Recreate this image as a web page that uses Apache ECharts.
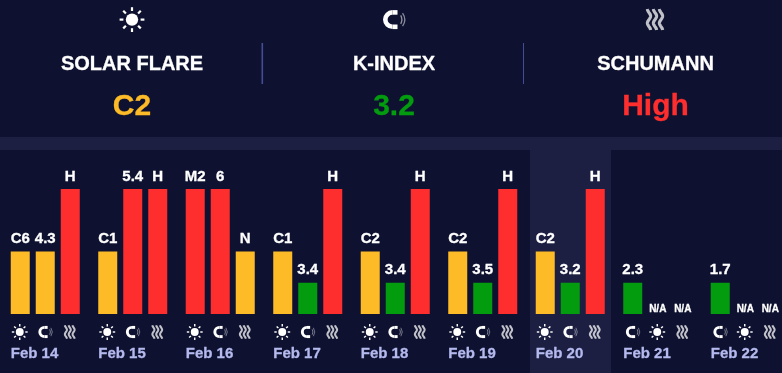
<!DOCTYPE html>
<html><head><meta charset="utf-8">
<style>html,body{margin:0;padding:0;background:#0e1230}#c{width:782px;height:373px}</style>
<script src="https://cdn.jsdelivr.net/npm/echarts@6/dist/echarts.min.js"></script>
</head><body><div id="c"></div>
<script>
const dates = ['Feb 14','Feb 15','Feb 16','Feb 17','Feb 18','Feb 19','Feb 20','Feb 21','Feb 22'];
const labels1 = ['C6','C1','M2','C1','C2','C2','C2','2.3','1.7'];
const levels1 = [2,2,4,2,2,2,2,1,1];
const icons1 = ['sun','sun','sun','sun','sun','sun','sun','magnet','magnet'];
const labels2 = ['4.3','5.4','6','3.4','3.4','3.5','3.2','N/A','N/A'];
const levels2 = [2,4,4,1,1,1,1,0,0];
const icons2 = ['magnet','magnet','magnet','magnet','magnet','magnet','magnet','sun','sun'];
const labels3 = ['H','H','N','H','H','H','H','N/A','N/A'];
const levels3 = [4,4,2,4,4,4,4,0,0];
const icons3 = ['waves','waves','waves','waves','waves','waves','waves','waves','waves'];
const headTitles = ['SOLAR FLARE','K-INDEX','SCHUMANN'];
const headValues = ['C2','3.2','High'];
const headLevels = [2,1,4];
const headIcons = ['sun','magnet','waves'];

const BG='#0e1230', BAND='#1c1f42', DIV='#444c93';
const levelColor = {0:'transparent',1:'#039c0f',2:'#fdbb27',4:'#ff2e2e'};
const FONT='"Liberation Sans",Arial,sans-serif';

function iconChildren(kind){
  const W='#ffffff';
  if(kind==='sun'){
    const c=[{type:'circle',shape:{cx:0,cy:0,r:6.2},style:{fill:W}}];
    for(let a=0;a<8;a++){
      const t=a*Math.PI/4, sx=Math.cos(t), sy=Math.sin(t);
      c.push({type:'line',shape:{x1:sx*8.6,y1:sy*8.6,x2:sx*12.4,y2:sy*12.4},style:{stroke:W,lineWidth:2.2,fill:null}});
    }
    return c;
  }
  if(kind==='magnet'){
    const ln={stroke:W,lineWidth:4.6,fill:null};
    return [
      {type:'arc',shape:{cx:-0.5,cy:0,r:7.2,startAngle:Math.PI/2,endAngle:-Math.PI/2,clockwise:true},style:ln},
      {type:'line',shape:{x1:-0.5,y1:-7.2,x2:4.5,y2:-7.2},style:ln},
      {type:'line',shape:{x1:-0.5,y1:7.2,x2:4.5,y2:7.2},style:ln},
      {type:'arc',shape:{cx:0,cy:0,r:8.8,startAngle:-0.5,endAngle:0.5,clockwise:true},style:{stroke:'rgba(255,255,255,.55)',lineWidth:1.3,fill:null}},
      {type:'arc',shape:{cx:0,cy:0,r:11.6,startAngle:-0.6,endAngle:0.6,clockwise:true},style:{stroke:'rgba(255,255,255,.5)',lineWidth:1.3,fill:null}}
    ];
  }
  return [-6,0,6].map(function(dx){
    const pts=[];
    for(let k=0;k<=21;k++){const y=-10.5+k; pts.push([dx-1.6*Math.sin(y*Math.PI/7),y]);}
    return {type:'polyline',shape:{points:pts},
      style:{stroke:'rgba(255,255,255,.74)',lineWidth:3.2,fill:null}};
  });
}
function iconGroup(kind,x,y,s){
  return {type:'group',x:x,y:y,scaleX:s,scaleY:s,children:iconChildren(kind)};
}
function barData(levels,labels){
  return levels.map(function(v,i){
    const na=labels[i]==='N/A';
    return {value:v,itemStyle:{color:levelColor[v]},
      label:{formatter:labels[i],fontSize:na?10:15,distance:na?0:5}};
  });
}
function barSeries(levels,labels){
  return {type:'bar',barWidth:19,barGap:'31.6%',data:barData(levels,labels),silent:true,
    label:{show:true,position:'top',color:'#fff',fontWeight:'bold',fontFamily:FONT,textBorderColor:'#fff',textBorderWidth:0.3}};
}
const slotIcons=[icons1,icons2,icons3], slotOffset=[-25,0,25];

const headX=[132,394,655.5];
const iconX=[132,393,655];
const gfx=[
  {type:'rect',shape:{x:0,y:137,width:782,height:13},style:{fill:BAND},z:0},
  {type:'rect',shape:{x:530,y:150,width:81,height:223},style:{fill:BAND},z:0},
  {type:'rect',shape:{x:261.5,y:43,width:1.6,height:41},style:{fill:DIV},z:0},
  {type:'rect',shape:{x:523,y:43,width:1,height:41},style:{fill:DIV},z:0}
];
headTitles.forEach(function(t,i){
  gfx.push(iconGroup(headIcons[i],iconX[i],19.6,1));
  gfx.push({type:'text',x:headX[i],y:64.5,style:{text:t,fill:'#fff',stroke:'#fff',lineWidth:0.3,font:'bold 20px '+FONT,textAlign:'center',textVerticalAlign:'middle'}});
  gfx.push({type:'text',x:headX[i],y:106.5,style:{text:headValues[i],fill:levelColor[headLevels[i]],stroke:levelColor[headLevels[i]],lineWidth:0.3,font:'bold 30px '+FONT,textAlign:'center',textVerticalAlign:'middle'}});
});

const chart=echarts.init(document.getElementById('c'),null,{renderer:'canvas'});
chart.setOption({
  animation:false,
  backgroundColor:BG,
  graphic:{elements:gfx},
  grid:{left:1.5,top:189,width:787.5,height:125,outerBoundsMode:'none',containLabel:false},
  xAxis:{type:'category',data:dates,axisLine:{show:false},axisTick:{show:false},
    axisLabel:{interval:0,margin:32,align:'center',formatter:'{d|{value}}',
      rich:{d:{width:69,align:'left',color:'#b4b9ee',fontSize:15,fontWeight:'bold',fontFamily:FONT,textBorderColor:'#b4b9ee',textBorderWidth:0.3}}}},
  yAxis:{type:'value',min:0,max:4,show:false,splitLine:{show:false}},
  series:[
    barSeries(levels1,labels1),
    barSeries(levels2,labels2),
    barSeries(levels3,labels3),
    {type:'custom',silent:true,clip:false,data:dates.map(function(d,i){return [i,0];}),encode:{x:0,y:1},
      renderItem:function(params,api){
        const p=api.coord([api.value(0),0]);
        const i=params.dataIndex;
        return {type:'group',children:slotIcons.map(function(arr,s){
          return iconGroup(arr[i],p[0]+slotOffset[s]-0.5,p[1]+18,0.64);
        })};
      }}
  ]
});
</script></body></html>
